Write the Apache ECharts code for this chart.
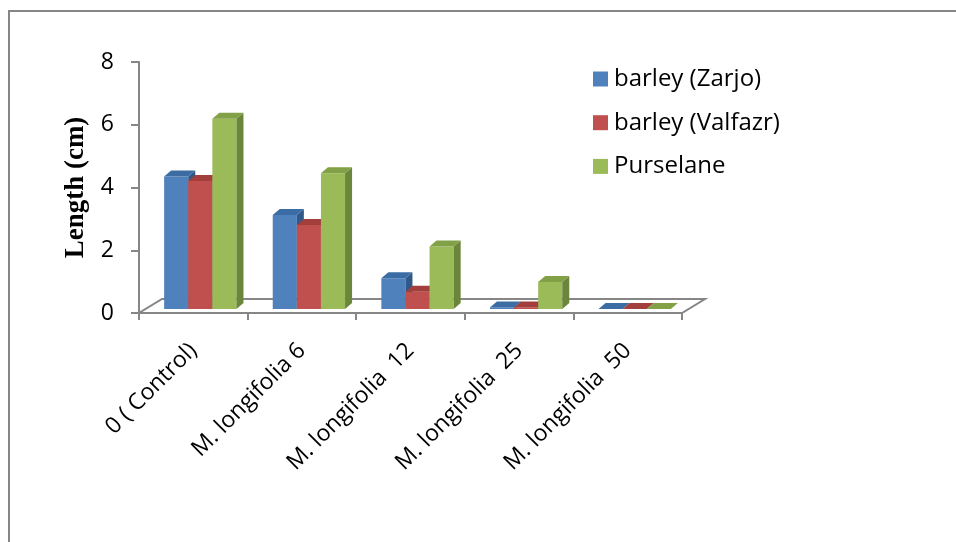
<!DOCTYPE html>
<html>
<head>
<meta charset="utf-8">
<script src="https://cdn.jsdelivr.net/npm/echarts@6/dist/echarts.min.js"></script>
<style>
  html, body { margin: 0; padding: 0; background: #ffffff; }
  #chart { width: 956px; height: 542px; }
</style>
</head>
<body>
<div id="chart"></div>
<script>
// Shoot length (cm) at each extract concentration
var categories = ['0 ( Control)', 'M. longifolia 6', 'M. longifolia  12', 'M. longifolia  25', 'M. longifolia  50'];
var zarjo     = [4.22, 3.0, 0.98, 0.05, 0];
var valfazr   = [4.08, 2.68, 0.55, 0.05, 0];
var purselane = [6.06, 4.33, 1.99, 0.86, 0];
var seriesNames = ['barley (Zarjo)', 'barley (Valfazr)', 'Purselane'];
var yMin = 0, yMax = 8, yStep = 2;

var FONT = '"Open Sans", "Noto Sans", sans-serif';
var GRAY = '#868686';

// Face colours for each series: front, top, side
var faces = [
  { front: '#4F81BD', top: '#3C6CA4', side: '#30598A' },
  { front: '#C0504D', top: '#A23E3B', side: '#8A3432' },
  { front: '#9BBB59', top: '#82A146', side: '#69863A' }
];

// Floor depth offset and bar depth offset (pseudo 3D)
var FLOOR_DX = 23, FLOOR_DY = -14;
var BAR_DX = 7, BAR_DY = -6;
var BAR_SHIFT = 7, BAR_LIFT = 4;   // bars stand a little behind the floor's front edge
var BAR_FRAC = 0.222;              // width of one bar relative to a category slot

function toPairs(arr) {
  return arr.map(function (v, i) { return [i, v]; });
}

function floorRenderer(params, api) {
  var n = categories.length;
  var a = api.coord([0, 0]);
  var b = api.coord([n - 1, 0]);
  var cw = api.size([1, 0])[0];
  var xl = a[0] - cw / 2, xr = b[0] + cw / 2, y = a[1];
  return {
    type: 'polygon',
    shape: { points: [[xl, y], [xr, y], [xr + FLOOR_DX, y + FLOOR_DY], [xl + FLOOR_DX, y + FLOOR_DY]] },
    style: { fill: '#ffffff', stroke: GRAY, lineWidth: 2 }
  };
}

function barRenderer(k) {
  var c = faces[k];
  return function (params, api) {
    var ci = api.value(0), v = api.value(1);
    var base = api.coord([ci, 0]);
    var hi = api.coord([ci, v]);
    var cw = api.size([1, 0])[0];
    var bw = cw * BAR_FRAC;
    var x0 = base[0] + BAR_SHIFT - 1.5 * bw + k * bw;
    var x1 = x0 + bw;
    var yb = base[1] - BAR_LIFT;
    var yt = hi[1] - BAR_LIFT;
    return {
      type: 'group',
      children: [
        { type: 'polygon', shape: { points: [[x0, yt], [x1, yt], [x1, yb], [x0, yb]] },
          style: { fill: c.front } },
        { type: 'polygon', shape: { points: [[x1, yt], [x1 + BAR_DX, yt + BAR_DY], [x1 + BAR_DX, yb + BAR_DY], [x1, yb]] },
          style: { fill: c.side } },
        { type: 'polygon', shape: { points: [[x0, yt], [x1, yt], [x1 + BAR_DX, yt + BAR_DY], [x0 + BAR_DX, yt + BAR_DY]] },
          style: { fill: c.top } }
      ]
    };
  };
}

var valueSets = [zarjo, valfazr, purselane];
var series = [{
  type: 'custom',
  name: 'floor',
  renderItem: floorRenderer,
  data: [[0, 0]],
  silent: true,
  z: 1
}];
valueSets.forEach(function (vals, k) {
  series.push({
    type: 'custom',
    name: seriesNames[k],
    renderItem: barRenderer(k),
    data: toPairs(vals),
    itemStyle: { color: faces[k].front },
    encode: { x: 0, y: 1 },
    z: 2 + k
  });
});

var chart = echarts.init(document.getElementById('chart'), null, { renderer: 'canvas' });
chart.setOption({
  animation: false,
  backgroundColor: '#ffffff',
  graphic: [{
    type: 'rect',
    shape: { x: 9, y: 11, width: 1000, height: 600 },
    style: { fill: 'none', stroke: GRAY, lineWidth: 2 },
    silent: true
  }],
  grid: { left: 139, right: 274, top: 62, bottom: 229, containLabel: false },
  legend: {
    orient: 'vertical',
    left: 593,
    top: 67,
    padding: 0,
    itemWidth: 15,
    itemHeight: 15,
    itemGap: 19.7,
    icon: 'rect',
    data: seriesNames,
    textStyle: { fontFamily: FONT, fontSize: 24, color: '#000000', lineHeight: 24, padding: [0, 0, 0, 1] }
  },
  xAxis: {
    type: 'category',
    data: categories,
    boundaryGap: true,
    axisLine: { show: true, lineStyle: { color: GRAY, width: 2 } },
    axisTick: { show: true, length: 7, alignWithLabel: false, lineStyle: { color: GRAY, width: 2 } },
    axisLabel: { interval: 0, rotate: 45, margin: 34, fontFamily: FONT, fontSize: 23, color: '#000000' },
    z: 0
  },
  yAxis: {
    type: 'value',
    min: yMin,
    max: yMax,
    interval: yStep,
    name: 'Length (cm)',
    nameLocation: 'middle',
    nameRotate: 90,
    nameGap: 40,
    nameTextStyle: { fontFamily: '"Liberation Serif", "Times New Roman", serif', fontWeight: 'bold', fontSize: 27, color: '#000000' },
    axisLine: { show: true, lineStyle: { color: GRAY, width: 2 } },
    axisTick: { show: true, length: 8, lineStyle: { color: GRAY, width: 2 } },
    axisLabel: { margin: 25, fontFamily: FONT, fontSize: 23, color: '#000000' },
    splitLine: { show: false }
  },
  series: series
});
</script>
</body>
</html>
